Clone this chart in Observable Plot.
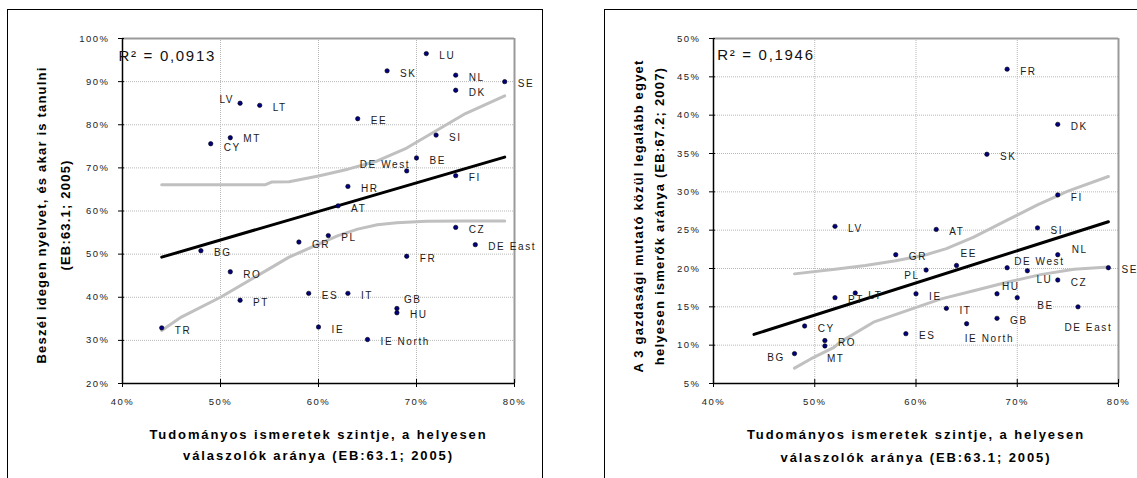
<!DOCTYPE html>
<html><head><meta charset="utf-8">
<script src="https://cdn.jsdelivr.net/npm/d3@7"></script>
<script src="https://cdn.jsdelivr.net/npm/@observablehq/plot@0.6"></script>
<style>
body{margin:0;background:#fff;font-family:"Liberation Sans",Arial,sans-serif;}
#wrap{position:relative;width:1137px;height:478px;overflow:hidden;background:#fff;}
.box{position:absolute;border:1px solid #000;}
.chart{position:absolute;top:0;}
.chart g[font-size="9.5"] text{letter-spacing:1.5px;}
.chart g[font-size="10"] text{letter-spacing:1.6px;}
.chart g[font-size="15"] text{letter-spacing:1.7px;}
.chart g[font-weight="bold"] text{letter-spacing:1.9px;}
.chart g[font-weight="bold"] text[transform*="rotate"]{letter-spacing:1.2px;}
</style></head><body>
<div id="wrap">
<div class="box" style="left:7px;top:9px;width:534px;height:500px"></div>
<div class="box" style="left:604px;top:9px;width:600px;height:500px"></div>
<div id="c1" class="chart" style="left:0px"></div>
<div id="c2" class="chart" style="left:580px"></div>
</div>
<script>
// ---- tick values ----
const xTicks = [40, 50, 60, 70, 80];
const leftYTicks = [20, 30, 40, 50, 60, 70, 80, 90, 100];
const rightYTicks = [5, 10, 15, 20, 25, 30, 35, 40, 45, 50];

// ---- left chart data ----
const leftCountries = ["TR","BG","CY","RO","MT","LV","PT","LT","GR","ES","IE","PL","AT","HR","IT","EE","IE North","SK","GB","HU","DE West","FR","BE","LU","SI","CZ","DK","FI","NL","DE East","SE"];
const leftX = [44,48,49,51,51,52,52,54,58,59,60,61,62,63,63,64,65,67,68,68,69,69,70,71,72,74,74,74,74,76,79];
const leftY = [32.9,50.8,75.6,45.9,77,85,39.3,84.5,52.8,40.9,33.1,54.3,61.2,65.7,40.9,81.4,30.2,92.5,37.4,36.4,69.3,49.5,72.3,96.5,77.6,56.2,88,68.2,91.5,52.2,90];
const leftTrendX = [44, 79];
const leftTrendY = [49.3, 72.5];
const leftUpperX = [44,54.6,55.2,57,60,63,66,69,72,75,79];
const leftUpperY = [66.1,66.1,66.7,66.8,68.1,69.7,71.6,74.6,78.6,82.6,86.7];
const leftLowerX = [44,46,50,54,57,60,62,64,66,68,71,75,79];
const leftLowerY = [32.3,35.4,40,45.3,49.3,52.3,54.3,55.8,56.8,57.3,57.6,57.7,57.7];
const leftR2 = "R² = 0,0913";

// ---- right chart data ----
const rightCountries = ["BG","CY","RO","MT","LV","PT","LT","GR","ES","IE","PL","AT","IT","EE","IE North","SK","GB","HU","DE West","FR","BE","LU","SI","CZ","DK","FI","NL","DE East","SE"];
const rightX = [48,49,51,51,52,52,54,58,59,60,61,62,63,64,65,67,68,68,69,69,70,71,72,74,74,74,74,76,79];
const rightY = [8.9,12.5,10.6,9.9,25.5,16.2,16.8,21.8,11.5,16.7,19.8,25.1,14.8,20.4,12.8,34.9,13.5,16.7,20.1,46,16.2,19.7,25.3,18.5,38.8,29.6,21.8,15,20.1];
const rightTrendX = [44, 79];
const rightTrendY = [11.4, 26.1];
const rightUpperX = [48,52,55,58,61,63,65.7,69,72,75,79];
const rightUpperY = [19.3,19.9,20.4,21,21.8,22.6,24.1,26.3,28.3,30.1,32];
const rightLowerX = [48,49.6,51.9,52.5,55.8,59.1,62.4,65.7,69,72.3,75.6,79];
const rightLowerY = [7,8.2,9.7,10.4,13,14.5,16,17.1,18.2,19.2,19.9,20.2];
const rightR2 = "R² = 0,1946";

// ---- texts ----
const xTitle = "Tudományos ismeretek szintje, a helyesen\nválaszolók aránya (EB:63.1; 2005)";
const leftYTitle = "Beszél idegen nyelvet, és akar is tanulni\n(EB:63.1; 2005)";
const rightYTitle = "A 3 gazdasági mutató közül legalább egyet\nhelyesen ismerők aránya (EB:67.2; 2007)";

// ---- label placement (style, not data) ----
const leftPlace = {
  "LV": [-6, -3, "end"], "CY": [13, 4.5], "MT": [13, 1], "DE West": [3.5, -6, "end"], "GB": [7, -9]
};
const rightPlace = {
  "NL": [14, -5], "EE": [4, -12], "DE West": [7, -6], "LU": [9, 9], "PL": [-6.5, 6, "end"],
  "HU": [5, -7], "BE": [20, 8], "DE East": [-13.6, 21], "IE North": [-2, 15], "MT": [2, 13], "BG": [-9.5, 4, "end"]
};

const zipXY = (xs, ys) => xs.map((x, i) => ({x, y: ys[i]}));

function makeChart(cfg) {
  const pts = cfg.names.map((n, i) => ({name: n, x: cfg.xs[i], y: cfg.ys[i]}));
  const labelMarks = pts.map(d => {
    const p = cfg.place[d.name] || [13, 2.5, "start"];
    return Plot.text([d], {x: "x", y: "y", text: "name", dx: p[0], dy: p[1], textAnchor: p[2] || "start",
      lineAnchor: "middle", fontSize: 10, fill: "#1a1a1a"});
  });
  const [y0, y1] = cfg.yDomain;
  return Plot.plot({
    width: cfg.width, height: 478,
    marginLeft: cfg.ml, marginRight: cfg.mr, marginTop: 38, marginBottom: 95,
    x: {domain: [40, 80]},
    y: {domain: cfg.yDomain},
    style: {fontFamily: "'Liberation Sans', Arial, sans-serif", overflow: "visible", background: "none", color: "#000"},
    marks: [
      Plot.ruleY(cfg.yTicks.filter(t => t > y0 && t < y1), {stroke: "#b8b8b8", strokeDasharray: "1,1", strokeWidth: 1}),
      Plot.ruleX(xTicks.filter(t => t > 40 && t < 80), {stroke: "#b8b8b8", strokeDasharray: "1,1", strokeWidth: 1}),
      Plot.ruleY([y1], {stroke: "#9a9a9a", strokeWidth: 2}),
      Plot.ruleX([80], {stroke: "#9a9a9a", strokeWidth: 2}),
      Plot.line(zipXY(cfg.upX, cfg.upY), {x: "x", y: "y", stroke: "#c0c0c0", strokeWidth: 3}),
      Plot.line(zipXY(cfg.loX, cfg.loY), {x: "x", y: "y", stroke: "#c0c0c0", strokeWidth: 3}),
      Plot.line(zipXY(cfg.trX, cfg.trY), {x: "x", y: "y", stroke: "#000", strokeWidth: 3}),
      Plot.ruleX([40], {stroke: "#000", strokeWidth: 1.5}),
      Plot.ruleY([y0], {stroke: "#000", strokeWidth: 1.5}),
      Plot.axisY(cfg.yTicks, {label: null, tickSize: 6, dx: 2, tickPadding: 9, tickFormat: d => d + "%", fontSize: 9.5, fill: "#222", stroke: "#000"}),
      Plot.axisX(xTicks, {label: null, tickSize: 8, dy: -4, tickPadding: 11, tickFormat: d => d + "%", fontSize: 9.5, fill: "#222", stroke: "#000"}),
      Plot.dot(pts, {x: "x", y: "y", r: 2.2, fill: "#000080", stroke: "#000", strokeWidth: 0.6}),
      ...labelMarks,
      Plot.text([cfg.r2], {text: d => d, frameAnchor: "top-left", textAnchor: "start", lineAnchor: "middle",
        dx: cfg.r2dx, dy: cfg.r2dy, fontSize: 15, fill: "#111"}),
      Plot.text([xTitle], {text: d => d, frameAnchor: "bottom", textAnchor: "middle", lineAnchor: "middle",
        dy: cfg.xtDy, lineHeight: cfg.xtLH, fontSize: 13, fontWeight: "bold", fill: "#000"}),
      Plot.text([cfg.yTitle], {text: d => d, frameAnchor: "left", rotate: -90, textAnchor: "middle", lineAnchor: "middle",
        dx: cfg.ytDx, dy: cfg.ytDy, lineHeight: cfg.ytLH, fontSize: 13, fontWeight: "bold", fill: "#000"})
    ]
  });
}

document.getElementById("c1").append(makeChart({
  width: 560, ml: 122, mr: 46, yDomain: [20, 100], yTicks: leftYTicks,
  names: leftCountries, xs: leftX, ys: leftY, place: leftPlace,
  trX: leftTrendX, trY: leftTrendY, upX: leftUpperX, upY: leftUpperY, loX: leftLowerX, loY: leftLowerY,
  r2: leftR2, r2dx: -4, r2dy: 18,
  xtDy: 59, xtLH: 21.7 / 13,
  yTitle: leftYTitle, ytDx: -72.5, ytDy: 4, ytLH: 24.4 / 13
}));
document.getElementById("c2").append(makeChart({
  width: 557, ml: 133, mr: 19, yDomain: [5, 50], yTicks: rightYTicks,
  names: rightCountries, xs: rightX, ys: rightY, place: rightPlace,
  trX: rightTrendX, trY: rightTrendY, upX: rightUpperX, upY: rightUpperY, loX: rightLowerX, loY: rightLowerY,
  r2: rightR2, r2dx: 3.7, r2dy: 17,
  xtDy: 60, xtLH: 23 / 13,
  yTitle: rightYTitle, ytDx: -67, ytDy: 5, ytLH: 21.7 / 13
}));
</script>
</body></html>
